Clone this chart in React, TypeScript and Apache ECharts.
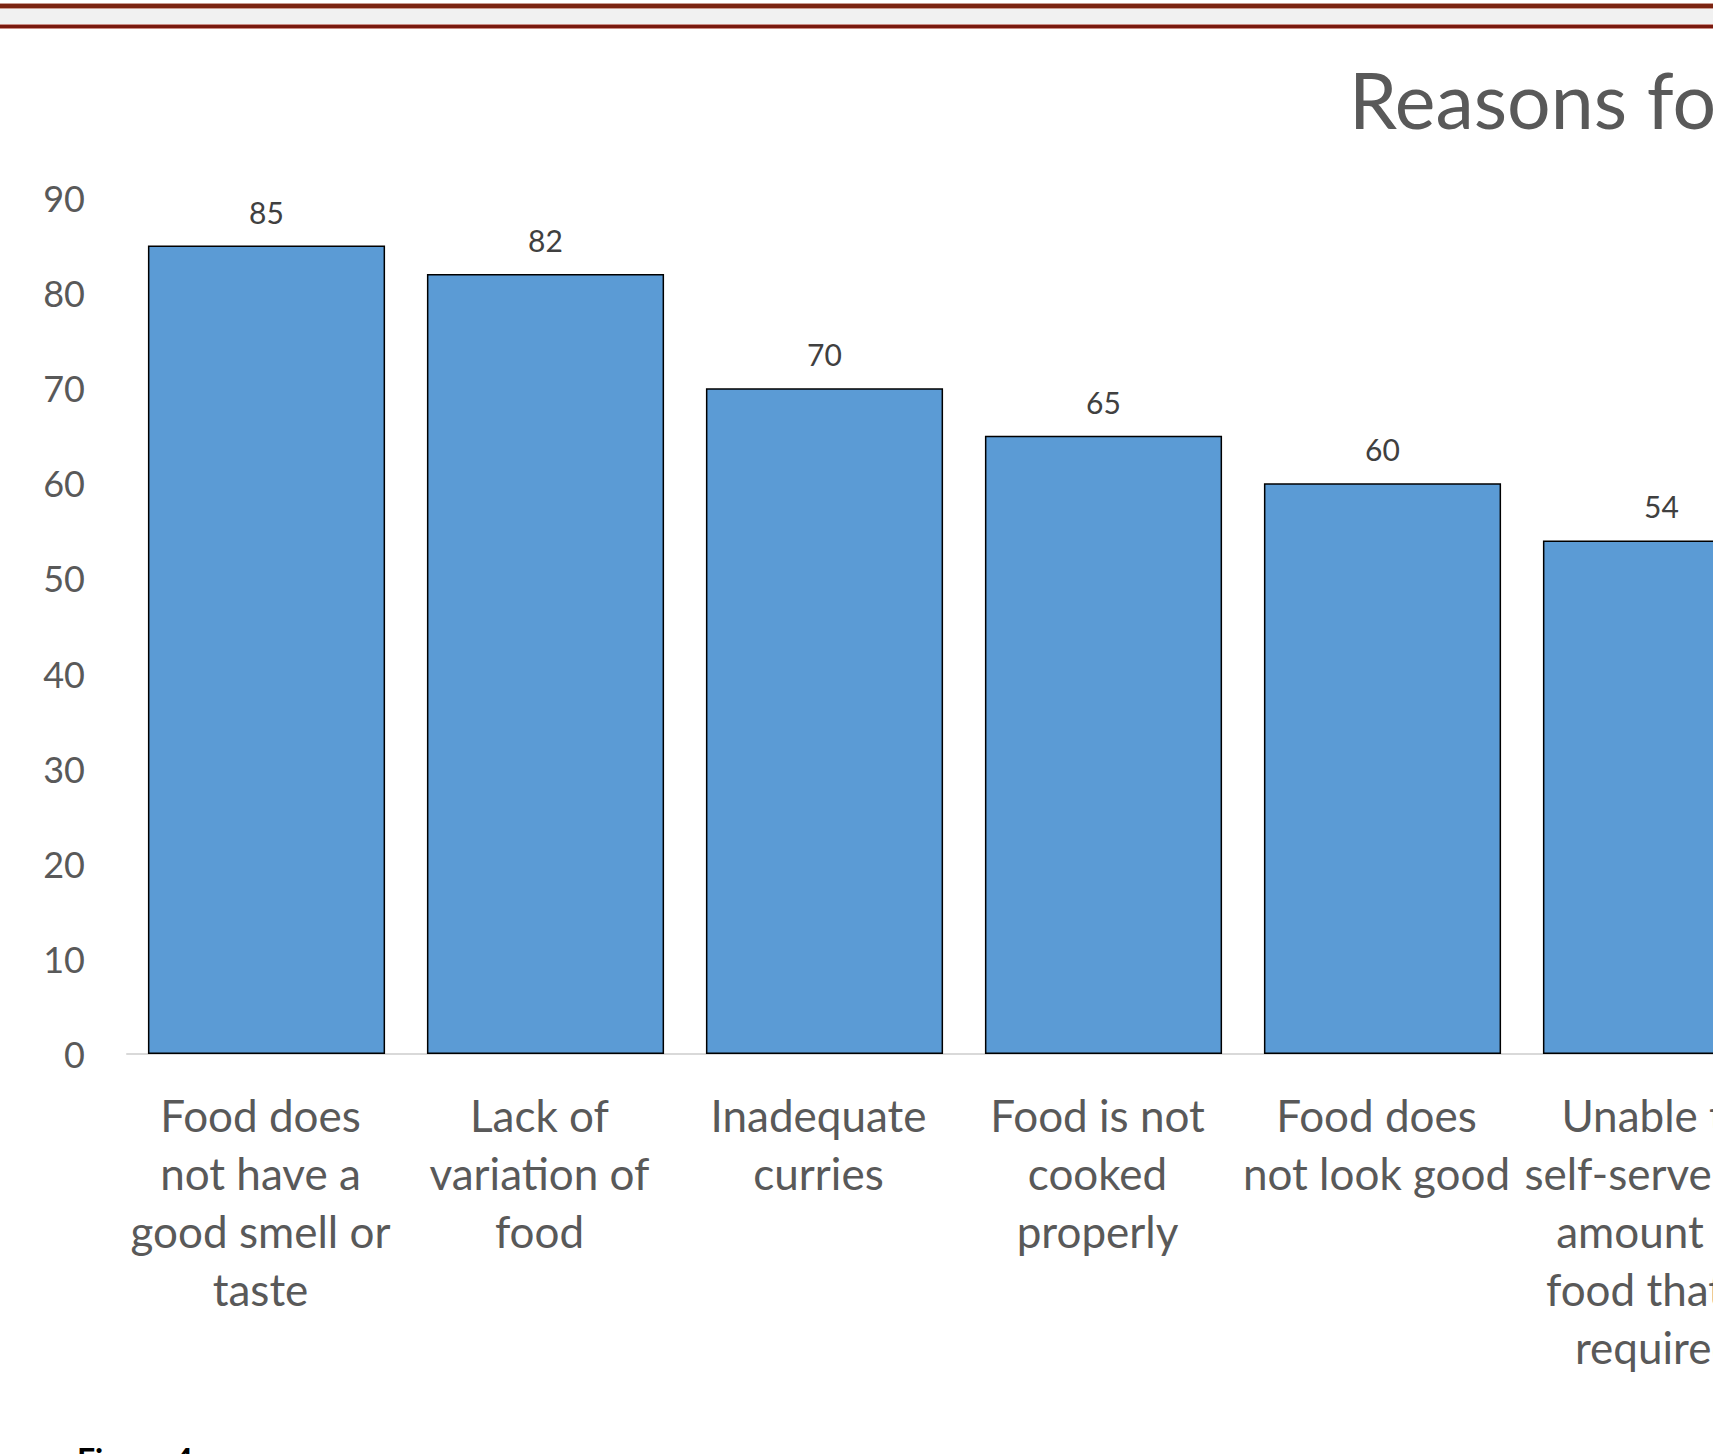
import React, { useEffect, useRef } from "react";
import * as echarts from "echarts";

const categories = [
  "Food does\nnot have a\ngood smell or\ntaste",
  "Lack of\nvariation of\nfood",
  "Inadequate\ncurries",
  "Food is not\ncooked\nproperly",
  "Food does\nnot look good",
  "Unable to\nself-serve the\namount of\nfood that is\nrequired",
];
const values = [85, 82, 70, 65, 60, 54];
const titleText = "Reasons for";
const captionText = "Figure 4";

export default function App() {
  const ref = useRef<HTMLDivElement>(null);
  useEffect(() => {
    document.body.style.margin = "0";
    document.body.style.overflow = "hidden";
    const chart = echarts.init(ref.current!, null, { renderer: "svg" });
    const font = "Lato, 'Open Sans', sans-serif";
    chart.setOption({
      animation: false,
      backgroundColor: "#ffffff",
      grid: {
        left: 127,
        top: 198,
        width: 279 * 6,
        bottom: 400,
        containLabel: false,
        outerBoundsMode: "none",
      },
      xAxis: {
        type: "category",
        data: categories,
        axisLine: { show: true, lineStyle: { color: "#d9d9d9", width: 2 } },
        axisTick: { show: false },
        axisLabel: {
          interval: 0,
          color: "#595959",
          fontFamily: font,
          fontSize: 44,
          lineHeight: 58,
          margin: 32,
          align: "center",
          padding: [0, 12, 0, 0],
        },
      },
      yAxis: {
        type: "value",
        min: 0,
        max: 90,
        interval: 10,
        axisLine: { show: false },
        axisTick: { show: false },
        splitLine: { show: false },
        axisLabel: {
          color: "#595959",
          fontFamily: font,
          fontSize: 36,
          margin: 42,
          padding: [0, 0, 4, 0],
        },
      },
      series: [
        {
          type: "bar",
          data: values,
          barCategoryGap: "15%",
          itemStyle: { color: "#5b9bd5", borderColor: "#000000", borderWidth: 1.5 },
          label: {
            show: true,
            position: "top",
            distance: 19,
            color: "#404040",
            fontFamily: font,
            fontSize: 30,
          },
        },
      ],
      graphic: [
        { type: "rect", shape: { x: 0, y: 3, width: 1713, height: 6 }, style: { fill: "#c99b90" }, silent: true },
        { type: "rect", shape: { x: 0, y: 4, width: 1713, height: 4 }, style: { fill: "#7b2411" }, silent: true },
        { type: "rect", shape: { x: 0, y: 9, width: 1713, height: 15 }, style: { fill: "#f1f1f1" }, silent: true },
        { type: "rect", shape: { x: 0, y: 24, width: 1713, height: 5 }, style: { fill: "#c98c84" }, silent: true },
        { type: "rect", shape: { x: 0, y: 25, width: 1713, height: 3 }, style: { fill: "#7a1a0e" }, silent: true },
        {
          type: "text",
          x: 1349,
          y: 99,
          style: {
            text: titleText,
            fill: "#595959",
            font: `77px ${font}`,
            align: "left",
            verticalAlign: "middle",
          },
        },
        {
          type: "text",
          x: 77,
          y: 1459,
          style: {
            text: captionText,
            fill: "#000000",
            font: `bold 32px ${font}`,
            align: "left",
            verticalAlign: "middle",
          },
        },
      ],
    });
    return () => chart.dispose();
  }, []);
  return <div ref={ref} style={{ width: 1713, height: 1454, overflow: "hidden" }} />;
}
